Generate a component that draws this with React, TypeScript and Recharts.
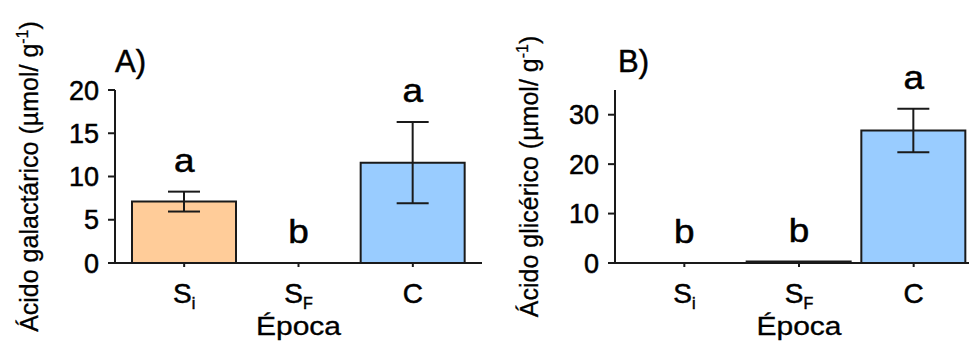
import { ComposedChart, Bar, Cell, ErrorBar, Scatter, XAxis, YAxis } from 'recharts'

const FONT = "'Liberation Sans', Arial, sans-serif"
const INK = '#1a1a1a'
const HEAVY = { stroke: '#000', strokeWidth: 0.5 }

// categories (Época) and their tick text, S with a subscript
const categories = ['Si', 'SF', 'C']
const tickMain = ['S', 'S', 'C']
const tickSub = ['i', 'F', '']
const barColors = ['#FFCC99', '#FFCC99', '#99CCFF']

// A) ácido galactárico
const galactaricMean = [7.1, 0, 11.6]
const galactaricErr = [1.15, 0, 4.7]
const galactaricLetters = ['a', 'b', 'a']
const galactaricTicks = [0, 5, 10, 15, 20]

// B) ácido glicérico
const glycericMean = [0, 0.3, 26.8]
const glycericErr = [0, 0, 4.4]
const glycericLetters = ['b', 'b', 'a']
const glycericTicks = [0, 10, 20, 30]

function buildRows(mean: number[], err: number[], letters: string[]) {
  return categories.map((cat, i) => ({
    cat,
    mean: mean[i],
    err: err[i],
    top: mean[i] + err[i],
    letter: letters[i],
  }))
}

function EpocaTick(props: any) {
  const { x, y, payload } = props
  const i = categories.indexOf(payload.value)
  return (
    <text x={x} y={y + 34} textAnchor="middle" fontSize={28} fontFamily={FONT} fill="#000" {...HEAVY}>
      {tickMain[i]}
      {tickSub[i] ? (
        <tspan fontSize={16} dy={6}>
          {tickSub[i]}
        </tspan>
      ) : null}
    </text>
  )
}

function LetterShape(props: any) {
  const { cx, cy, payload } = props
  if (cx == null || cy == null) return <g />
  return (
    <g transform={`translate(${cx} ${cy - 20}) scale(1.12 1)`}>
      <text x={0} y={0} textAnchor="middle" fontSize={33} fontFamily={FONT} fill="#000" {...HEAVY}>
        {payload.letter}
      </text>
    </g>
  )
}

function Panel({ rows, ticks, max, yLabel, width }: any) {
  const renderYLabel = (p: any) => {
    const vb = p.viewBox
    const cx = vb.x + 38
    const cy = vb.y + vb.height / 2
    return (
      <text
        x={cx}
        y={cy}
        transform={`rotate(-90 ${cx} ${cy})`}
        textAnchor="middle"
        fontSize={25}
        fontFamily={FONT}
        fill="#000"
        stroke="#000"
        strokeWidth={0.3}
      >
        {yLabel} (µmol/ g
        <tspan dy={-10} fontSize={16}>
          -1
        </tspan>
        <tspan dy={10}>)</tspan>
      </text>
    )
  }
  const renderXLabel = (p: any) => {
    const vb = p.viewBox
    return (
      <g transform={`translate(${vb.x + vb.width / 2} ${vb.y + 72}) scale(1.2 1)`}>
        <text x={0} y={0} textAnchor="middle" fontSize={25} fontFamily={FONT} fill="#000" stroke="#000" strokeWidth={0.3}>
          Época
        </text>
      </g>
    )
  }
  return (
    <ComposedChart width={width} height={341} data={rows} margin={{ top: 90, right: 6, bottom: 0, left: 0 }}>
      <XAxis
        dataKey="cat"
        height={78}
        interval={0}
        padding={{ left: 12, right: 12 }}
        tickSize={4}
        tickMargin={2}
        axisLine={{ stroke: INK, strokeWidth: 2 }}
        tickLine={{ stroke: INK, strokeWidth: 2 }}
        tick={<EpocaTick />}
        label={{ content: renderXLabel }}
      />
      <YAxis
        width={115}
        domain={[0, max]}
        ticks={ticks}
        tickSize={7}
        tickMargin={9}
        axisLine={{ stroke: INK, strokeWidth: 2 }}
        tickLine={{ stroke: INK, strokeWidth: 2 }}
        tick={{ fontSize: 27, fill: '#000', fontFamily: FONT, ...HEAVY }}
        label={{ content: renderYLabel }}
      />
      <Bar dataKey="mean" barSize={104} stroke={INK} strokeWidth={2} isAnimationActive={false}>
        {rows.map((r: any, i: number) => (
          <Cell key={r.cat} fill={barColors[i]} />
        ))}
        <ErrorBar dataKey="err" width={16} strokeWidth={2} stroke={INK} />
      </Bar>
      <Scatter dataKey="top" shape={LetterShape} isAnimationActive={false} />
    </ComposedChart>
  )
}

export default function App() {
  const rowsA = buildRows(galactaricMean, galactaricErr, galactaricLetters)
  const rowsB = buildRows(glycericMean, glycericErr, glycericLetters)
  return (
    <div
      style={{
        position: 'fixed',
        left: 0,
        top: 0,
        width: 969,
        height: 341,
        overflow: 'hidden',
        background: '#fff',
      }}
    >
      <div style={{ position: 'absolute', left: 0, top: 0 }}>
        <Panel rows={rowsA} ticks={galactaricTicks} max={20} yLabel="Ácido galactárico" width={488} />
      </div>
      <div style={{ position: 'absolute', left: 500, top: 0 }}>
        <Panel rows={rowsB} ticks={glycericTicks} max={35} yLabel="Ácido glicérico" width={489} />
      </div>
      <svg width={969} height={341} style={{ position: 'absolute', left: 0, top: 0, pointerEvents: 'none' }}>
        <text x={115} y={72} fontSize={31} fontFamily={FONT} fill="#000" {...HEAVY}>
          A)
        </text>
        <text x={618} y={72} fontSize={31} fontFamily={FONT} fill="#000" {...HEAVY}>
          B)
        </text>
      </svg>
    </div>
  )
}
